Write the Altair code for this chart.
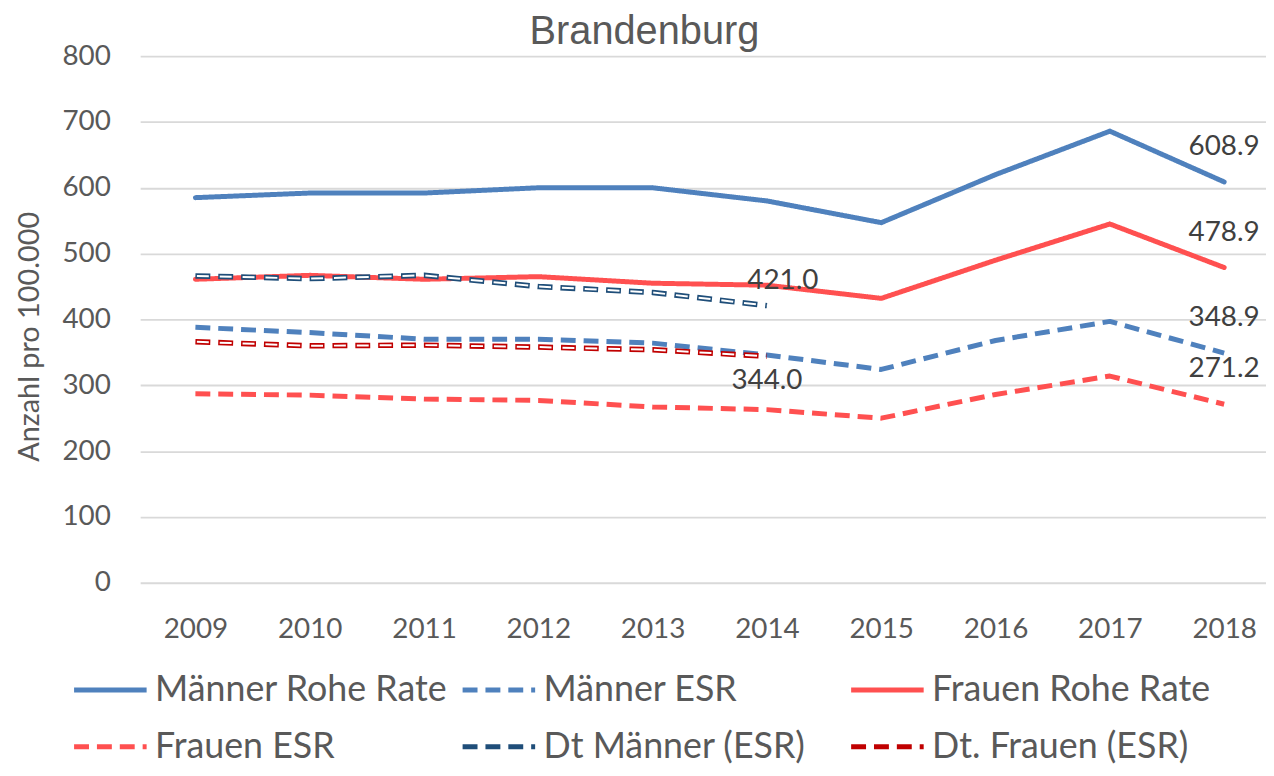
import altair as alt
import pandas as pd

years = ["2009", "2010", "2011", "2012", "2013", "2014", "2015", "2016", "2017", "2018"]
series_names = ["Männer Rohe Rate", "Männer ESR", "Frauen Rohe Rate",
                "Frauen ESR", "Dt Männer (ESR)", "Dt. Frauen (ESR)"]

maenner_rohe = [585, 592, 592, 600, 600, 580, 547, 620, 686, 608.9]
maenner_esr = [388, 380, 370, 370, 364, 346, 324, 368, 397, 348.9]
frauen_rohe = [461, 467, 461, 465, 455, 452, 432, 490, 545, 478.9]
frauen_esr = [287, 285, 279, 277, 267, 263, 250, 286, 314, 271.2]
dt_maenner = [466, 462, 467, 450, 441, 421.0]
dt_frauen = [366, 360, 361, 358, 354, 344.0]

all_series = [maenner_rohe, maenner_esr, frauen_rohe, frauen_esr, dt_maenner, dt_frauen]
rows = []
for name, vals in zip(series_names, all_series):
    for yr, v in zip(years, vals):
        rows.append({"Jahr": yr, "Wert": v, "Reihe": name})
df = pd.DataFrame(rows)

# legend is filled column by column: this order gives rows
# "Männer Rohe Rate | Männer ESR | Frauen Rohe Rate" and
# "Frauen ESR | Dt Männer (ESR) | Dt. Frauen (ESR)"
legend_order = ["Männer Rohe Rate", "Frauen ESR", "Männer ESR",
                "Dt Männer (ESR)", "Frauen Rohe Rate", "Dt. Frauen (ESR)"]
colors = ["#4F81BD", "#FF5050", "#4F81BD", "#1F4E79", "#FF5050", "#C00000"]
dashes = [[1, 0], [15, 8], [15, 8], [15, 8], [1, 0], [15, 8]]

FONT = "Lato"

x_enc = alt.X("Jahr:O", scale=alt.Scale(type="point", padding=0.4247, align=0.569),
              axis=alt.Axis(title=None, labelAngle=0, grid=False, domain=False,
                            ticks=False, labelPadding=33, labelFontSize=28,
                            labelColor="#595959", labelFont=FONT))
y_enc = alt.Y("Wert:Q", scale=alt.Scale(domain=[0, 800], nice=False),
              axis=alt.Axis(title="Anzahl pro 100.000", values=list(range(0, 801, 100)),
                            domain=False, ticks=False, labelPadding=30, labelFontSize=28,
                            labelColor="#595959", labelFont=FONT,
                            titleFontSize=29, titleFontWeight="normal", titleColor="#595959",
                            titleFont=FONT, titlePadding=18, titleY=282,
                            gridColor="#d9d9d9", gridWidth=1.8))

color_enc = alt.Color("Reihe:N",
                      scale=alt.Scale(domain=legend_order, range=colors),
                      legend=alt.Legend(title=None, orient="none", legendX=-69, legendY=599,
                                        columns=3, gridAlign="all", columnPadding=4,
                                        rowPadding=-17, labelFontSize=36, labelFont=FONT,
                                        labelColor="#595959", labelLimit=0, labelOffset=6,
                                        symbolType="stroke", symbolSize=5329,
                                        symbolStrokeWidth=5))
dash_enc = alt.StrokeDash("Reihe:N", scale=alt.Scale(domain=legend_order, range=dashes),
                          legend=None)

base = alt.Chart(df)

is_rohe = "indexof(datum.Reihe, 'Rohe') >= 0"
is_dt = "indexof(datum.Reihe, 'Dt') == 0"
is_esr = "indexof(datum.Reihe, 'Dt') < 0 && indexof(datum.Reihe, 'ESR') >= 0"

rohe_lines = base.transform_filter(is_rohe).mark_line(
    strokeWidth=5, strokeCap="round", strokeJoin="round").encode(
    x=x_enc, y=y_enc, color=color_enc, strokeDash=dash_enc, order=alt.Order("Jahr:O"))

esr_lines = base.transform_filter(is_esr).mark_line(
    strokeWidth=5, strokeCap="butt", strokeJoin="round").encode(
    x="Jahr:O", y="Wert:Q", color=color_enc, strokeDash=dash_enc, order=alt.Order("Jahr:O"))

dt_lines = base.transform_filter(is_dt).mark_line(
    strokeWidth=5.5, strokeCap="butt", strokeJoin="round").encode(
    x="Jahr:O", y="Wert:Q", color=color_enc, strokeDash=dash_enc, order=alt.Order("Jahr:O"))

dt_inner = base.transform_filter(is_dt).mark_line(
    strokeWidth=2, strokeCap="butt", strokeJoin="round",
    strokeDash=[12, 11], strokeDashOffset=-1.5, color="white").encode(
    x="Jahr:O", y="Wert:Q", detail="Reihe:N", order=alt.Order("Jahr:O"))

lab_style = dict(font=FONT, fontSize=28, color="#404040")

labels_2018 = base.transform_filter(alt.datum.Jahr == "2018").mark_text(
    dy=-35, **lab_style).encode(x="Jahr:O", y="Wert:Q", text=alt.Text("Wert:Q", format=".1f"))

labels_dtm = base.transform_filter(
    (alt.datum.Jahr == "2014") & (alt.datum.Reihe == "Dt Männer (ESR)")
).mark_text(dx=16, dy=-25, **lab_style).encode(
    x="Jahr:O", y="Wert:Q", text=alt.Text("Wert:Q", format=".1f"))

labels_dtf = base.transform_filter(
    (alt.datum.Jahr == "2014") & (alt.datum.Reihe == "Dt. Frauen (ESR)")
).mark_text(dx=0, dy=25, **lab_style).encode(
    x="Jahr:O", y="Wert:Q", text=alt.Text("Wert:Q", format=".1f"))

chart = alt.layer(rohe_lines, esr_lines, dt_lines, dt_inner,
                  labels_2018, labels_dtm, labels_dtf).properties(
    width=1133, height=530,
    title=alt.TitleParams("Brandenburg", fontSize=40, font="Liberation Sans",
                          fontWeight="normal", color="#595959", anchor="middle",
                          dx=-59, dy=16, offset=6),
    autosize=alt.AutoSizeParams(type="none"),
    padding={"left": 133, "top": 46, "right": 0, "bottom": 183},
).configure_view(stroke=None)

chart.save("out.html", embed_options={"renderer": "svg", "actions": False})
